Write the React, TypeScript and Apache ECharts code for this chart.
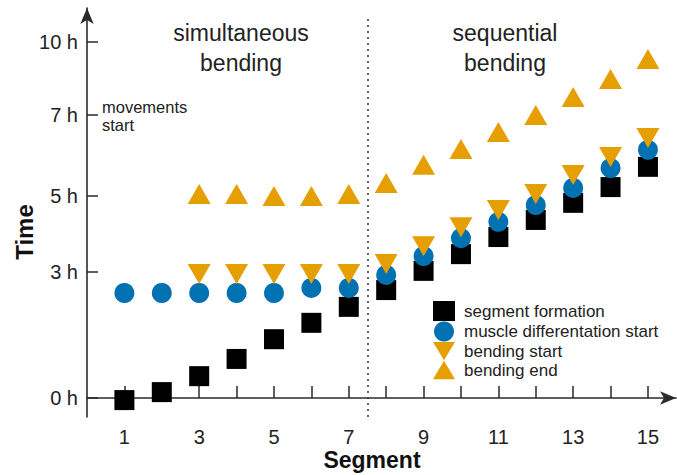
import React, { useEffect, useRef } from "react";
import * as echarts from "echarts";

// Segment numbers (x)
const segments = [1, 2, 3, 4, 5, 6, 7, 8, 9, 10, 11, 12, 13, 14, 15];
// Times in hours
const segmentFormation = [-0.05, 0.14, 0.52, 0.93, 1.4, 1.79, 2.17, 2.57, 3.03, 3.47, 3.92, 4.37, 4.82, 5.22, 5.72];
const muscleDiffStart = [2.5, 2.5, 2.5, 2.5, 2.5, 2.62, 2.62, 2.93, 3.42, 3.89, 4.32, 4.76, 5.2, 5.69, 6.14];
const bendingStart = [null, null, 2.95, 2.95, 2.95, 2.95, 2.95, 3.21, 3.68, 4.18, 4.63, 5.05, 5.52, 5.96, 6.43];
const bendingEnd = [null, null, 5.05, 5.05, 5.0, 5.0, 5.05, 5.32, 5.77, 6.16, 6.58, 7.0, 7.74, 8.48, 9.3];

// The time axis of the original figure is not linear: tick hours and their axis positions
const tickHours = [0, 3, 5, 7, 10];
const tickPositions = [0, 126, 202, 283, 356];
const tickLabels = ["0 h", "3 h", "5 h", "7 h", "10 h"];
const xTicks = [1, 2, 3, 4, 5, 6, 7, 8, 9, 10, 11, 12, 13, 14, 15];
const xLabels = [1, 3, 5, 7, 9, 11, 13, 15];
const phaseBoundary = 7.5;

const seriesNames = ["segment formation", "muscle differentation start", "bending start", "bending end"];

const FONT = "'Liberation Sans', Arial, Helvetica, sans-serif";
const ORANGE = "#E69F00";
const BLUE = "#0072B2";

function toPos(h: number | null): number | null {
  if (h === null) return null;
  for (let i = 0; i < tickHours.length - 1; i++) {
    const h0 = tickHours[i], h1 = tickHours[i + 1];
    if (h <= h1 || i === tickHours.length - 2) {
      if (h < h0 && i > 0) continue;
      const p0 = tickPositions[i], p1 = tickPositions[i + 1];
      return p0 + ((h - h0) / (h1 - h0)) * (p1 - p0);
    }
  }
  return null;
}

function pairs(vals: (number | null)[]) {
  return segments
    .map((s, i) => [s, toPos(vals[i])])
    .filter((d) => d[1] !== null);
}

export default function App() {
  const ref = useRef<HTMLDivElement>(null);
  useEffect(() => {
    if (!ref.current) return;
    const chart = echarts.init(ref.current, undefined, { renderer: "svg" });
    const axisColor = "#2a2a2a";
    chart.setOption({
      animation: false,
      textStyle: { fontFamily: FONT },
      grid: { left: 87, right: 1, top: 8, bottom: 58 },
      xAxis: {
        type: "value",
        min: 0,
        max: 15.75,
        splitLine: { show: false },
        axisLine: {
          show: true,
          symbol: ["none", "arrow"],
          symbolSize: [10, 16],
          lineStyle: { color: axisColor, width: 1.6 },
        },
        axisTick: { show: true, inside: true, length: 12, customValues: xTicks, lineStyle: { color: axisColor, width: 1.5 } },
        axisLabel: { customValues: xLabels, fontSize: 20, color: "#222", margin: 10, fontFamily: FONT },
      },
      yAxis: {
        type: "value",
        min: -19,
        max: 390,
        splitLine: { show: false },
        axisLine: {
          show: true,
          symbol: ["none", "arrow"],
          symbolSize: [10, 16],
          lineStyle: { color: axisColor, width: 1.6 },
        },
        axisTick: { show: true, inside: true, length: 11, customValues: tickPositions, lineStyle: { color: axisColor, width: 1.5 } },
        axisLabel: {
          customValues: tickPositions,
          fontSize: 20,
          color: "#222",
          margin: 9,
          fontFamily: FONT,
          formatter: (v: number) => {
            const i = tickPositions.indexOf(v);
            return i >= 0 ? tickLabels[i] : "";
          },
        },
      },
      legend: {
        orient: "vertical",
        left: 428,
        top: 296,
        itemWidth: 22,
        itemHeight: 20,
        itemGap: 0.5,
        textStyle: { fontSize: 17, color: "#222", fontFamily: FONT, padding: [0, 0, 0, 4] },
        data: seriesNames,
      },
      series: [
        {
          name: seriesNames[0],
          type: "scatter",
          symbol: "rect",
          symbolSize: 20,
          itemStyle: { color: "#000", opacity: 1 },
          data: pairs(segmentFormation),
          markLine: {
            silent: true,
            symbol: "none",
            label: { show: false },
            lineStyle: { type: [2, 4], color: "#333", width: 1.5 },
            data: [[{ coord: [phaseBoundary, -19] }, { coord: [phaseBoundary, 379] }]],
          },
        },
        {
          name: seriesNames[1],
          type: "scatter",
          symbol: "circle",
          symbolSize: 20,
          itemStyle: { color: BLUE, opacity: 1 },
          data: pairs(muscleDiffStart),
        },
        {
          name: seriesNames[2],
          type: "scatter",
          symbol: "path://M0,0L24,0L12,20Z",
          symbolSize: [23, 20],
          itemStyle: { color: ORANGE, opacity: 1 },
          data: pairs(bendingStart),
        },
        {
          name: seriesNames[3],
          type: "scatter",
          symbol: "path://M12,0L24,20L0,20Z",
          symbolSize: [23, 20],
          itemStyle: { color: ORANGE, opacity: 1 },
          data: pairs(bendingEnd),
        },
      ],
      graphic: [
        {
          type: "text",
          x: 241,
          y: 48,
          style: {
            text: "simultaneous\nbending",
            fontSize: 23,
            lineHeight: 30,
            fontFamily: FONT,
            fill: "#222",
            align: "center",
            verticalAlign: "middle",
          },
        },
        {
          type: "text",
          x: 505,
          y: 48,
          style: {
            text: "sequential\nbending",
            fontSize: 23,
            lineHeight: 30,
            fontFamily: FONT,
            fill: "#222",
            align: "center",
            verticalAlign: "middle",
          },
        },
        {
          type: "text",
          x: 102,
          y: 116,
          style: {
            text: "movements\nstart",
            fontSize: 16.5,
            lineHeight: 18,
            fontFamily: FONT,
            fill: "#222",
            align: "left",
            verticalAlign: "middle",
          },
        },
        {
          type: "text",
          x: 24,
          y: 232,
          rotation: Math.PI / 2,
          style: {
            text: "Time",
            fontSize: 24,
            fontWeight: "bold",
            fontFamily: FONT,
            fill: "#111",
            align: "center",
            verticalAlign: "middle",
          },
        },
        {
          type: "text",
          x: 372,
          y: 460,
          style: {
            text: "Segment",
            fontSize: 23,
            fontWeight: "bold",
            fontFamily: FONT,
            fill: "#111",
            align: "center",
            verticalAlign: "middle",
          },
        },
      ],
    });
    return () => chart.dispose();
  }, []);
  return (
    <div
      ref={ref}
      style={{ position: "fixed", left: 0, top: 0, width: 677, height: 475, background: "#fff" }}
    />
  );
}
